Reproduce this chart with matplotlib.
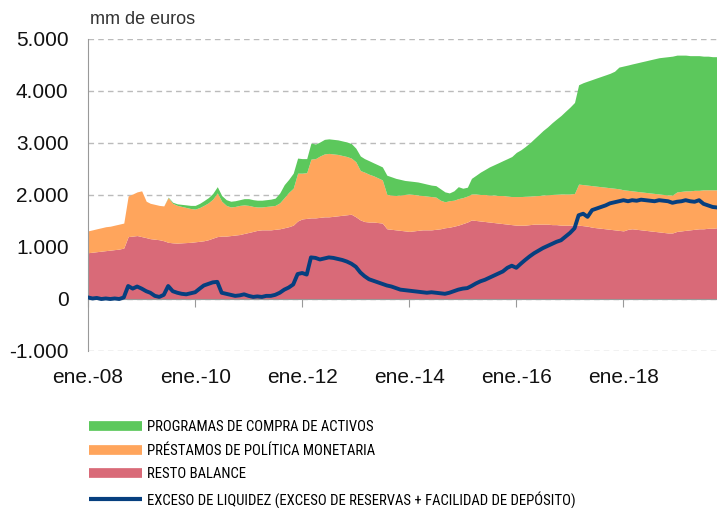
import numpy as np
import pandas as pd
import matplotlib
matplotlib.use('Agg')
import matplotlib.pyplot as plt
from matplotlib.lines import Line2D
from matplotlib import font_manager as fm

# Monthly readings, ene.-08 to oct.-19 (mm de euros)
# top of RESTO BALANCE
resto = [
    890, 900, 910, 920, 930, 940, 950, 960, 980, 1200, 1210, 1220,
    1200, 1180, 1160, 1150, 1140, 1120, 1090, 1080, 1075, 1080, 1085, 1090,
    1100, 1110, 1120, 1140, 1170, 1200, 1210, 1210, 1220, 1230, 1240, 1260,
    1280, 1300, 1320, 1330, 1330, 1330, 1340, 1350, 1370, 1390, 1420, 1500,
    1540, 1550, 1560, 1560, 1570, 1580, 1580, 1590, 1600, 1610, 1620, 1630,
    1580, 1520, 1490, 1480, 1480, 1470, 1460, 1350, 1340, 1330, 1320, 1310,
    1300, 1310, 1320, 1330, 1330, 1330, 1340, 1350, 1370, 1380, 1400, 1420,
    1450, 1480, 1520, 1510, 1500, 1490, 1480, 1470, 1460, 1450, 1440, 1430,
    1420, 1420, 1420, 1430, 1440, 1440, 1440, 1440, 1430, 1430, 1420, 1420,
    1420, 1420, 1420, 1410, 1400, 1380, 1370, 1360, 1350, 1340, 1330, 1320,
    1310, 1340, 1350, 1340, 1330, 1320, 1310, 1300, 1290, 1280, 1270, 1270,
    1300, 1310, 1320, 1330, 1340, 1350, 1350, 1360, 1360, 1370,
]
# top of PRESTAMOS DE POLITICA MONETARIA (stacked)
prestamos_top = [
    1310, 1330, 1350, 1370, 1390, 1400, 1420, 1440, 1460, 1980, 2020, 2060,
    2080, 1880, 1840, 1820, 1800, 1790, 1950, 1840, 1800, 1780, 1760, 1740,
    1730, 1760, 1800, 1850, 1920, 2040, 1880, 1800, 1770, 1780, 1800, 1810,
    1800, 1780, 1770, 1770, 1780, 1790, 1800, 1850, 1950, 2050, 2130, 2420,
    2420, 2430, 2690, 2700, 2750, 2790, 2800, 2790, 2780, 2760, 2740, 2710,
    2640, 2470, 2440, 2400, 2370, 2330, 2290, 2010, 2000, 1990, 2000, 2010,
    2020, 2010, 2000, 1990, 1980, 1970, 1960, 1900, 1870, 1890, 1900, 1930,
    1950, 1980, 2020, 2020, 2010, 2010, 2000, 2000, 1990, 1990, 1980, 1970,
    1970, 1970, 1975, 1980, 1985, 1990, 2000, 2005, 2010, 2015, 2020, 2020,
    2020, 2030, 2210, 2200, 2190, 2180, 2170, 2160, 2150, 2140, 2130, 2120,
    2100, 2090, 2080, 2070, 2060, 2050, 2040, 2030, 2020, 2010, 2000, 2000,
    2060, 2070, 2080, 2080, 2090, 2090, 2100, 2100, 2100, 2100,
]
# top of PROGRAMAS DE COMPRA DE ACTIVOS (stacked total)
programas_top = [
    1310, 1330, 1350, 1370, 1390, 1400, 1420, 1440, 1460, 1980, 2020, 2060,
    2080, 1880, 1840, 1820, 1800, 1790, 1960, 1860, 1830, 1820, 1810, 1800,
    1800, 1840, 1890, 1950, 2030, 2160, 1990, 1910, 1880, 1890, 1910, 1930,
    1930, 1910, 1900, 1900, 1910, 1920, 1940, 2040, 2200, 2300, 2420, 2710,
    2700, 2700, 3000, 2980, 3020, 3070, 3080, 3070, 3060, 3040, 3020, 2990,
    2900, 2750, 2700, 2660, 2620, 2580, 2540, 2380, 2350, 2320, 2300, 2280,
    2270, 2260, 2250, 2230, 2210, 2190, 2180, 2120, 2060, 2040, 2080, 2160,
    2130, 2150, 2320, 2380, 2440, 2490, 2540, 2580, 2620, 2660, 2700, 2740,
    2820, 2870, 2930, 3000, 3080, 3160, 3240, 3310, 3390, 3460, 3530, 3610,
    3690, 3780, 4120, 4160, 4190, 4220, 4250, 4280, 4310, 4340, 4380, 4460,
    4480, 4500, 4520, 4540, 4560, 4580, 4600, 4620, 4640, 4650, 4660, 4670,
    4690, 4690, 4690, 4680, 4680, 4680, 4670, 4670, 4660, 4660,
]
# EXCESO DE LIQUIDEZ
exceso = [
    30, 10, 20, 0, 10, 0, 10, 0, 30, 250, 200, 240,
    200, 150, 120, 60, 40, 80, 250, 150, 120, 100, 90, 110,
    130, 200, 260, 290, 320, 330, 120, 100, 80, 60, 70, 90,
    60, 40, 50, 40, 60, 60, 80, 120, 180, 220, 280, 480,
    500, 470, 800, 790, 760, 780, 800, 790, 770, 750, 720, 680,
    620, 510, 440, 380, 350, 320, 290, 260, 240, 210, 180, 170,
    160, 150, 140, 130, 120, 130, 120, 110, 100, 120, 150, 180,
    200, 210, 250, 300, 340, 370, 410, 450, 490, 530, 600, 640,
    600, 680, 750, 820, 880, 930, 980, 1020, 1060, 1100, 1130, 1200,
    1270, 1360, 1610, 1640, 1580, 1710, 1740, 1770, 1800, 1840, 1860, 1880,
    1900, 1880, 1900, 1890, 1910, 1900, 1890, 1880, 1900, 1890, 1880, 1850,
    1870, 1880, 1900, 1880, 1870, 1900, 1830, 1800, 1770, 1760,
]

y_ticks = [-1000, 0, 1000, 2000, 3000, 4000, 5000]
y_labels = ['-1.000', '0', '1.000', '2.000', '3.000', '4.000', '5.000']
x_tick_years = [2008, 2010, 2012, 2014, 2016, 2018]
x_labels = ['ene.-08', 'ene.-10', 'ene.-12', 'ene.-14', 'ene.-16', 'ene.-18']

names = ['PROGRAMAS DE COMPRA DE ACTIVOS', 'PRÉSTAMOS DE POLÍTICA MONETARIA',
         'RESTO BALANCE', 'EXCESO DE LIQUIDEZ (EXCESO DE RESERVAS + FACILIDAD DE DEPÓSITO)']

c_green = '#5cc85c'
c_orange = '#ffa55c'
c_red = '#d96a78'
c_blue = '#063f7f'

plt.rcParams['font.family'] = ['Liberation Sans', 'DejaVu Sans']


# legend uses a condensed face if one is installed
def pick_narrow():
    best = None
    for f in fm.fontManager.ttflist:
        n = f.name.lower()
        fn = f.fname.lower()
        st = str(f.stretch).lower()
        if not ('narrow' in n or 'condensed' in n or 'narrow' in fn or 'condensed' in fn or 'condensed' in st):
            continue
        if 'bold' in fn or 'italic' in fn or 'oblique' in fn or 'light' in fn or 'mono' in n:
            continue
        if 'semi' in fn or 'extra' in fn or 'ultra' in fn:
            continue
        if 'serif' in n and 'sans' not in n:
            continue
        score = 0
        if 'liberation' in n:
            score = 4
        elif 'roboto' in n:
            score = 3
        elif 'dejavu' in n:
            score = 2
        else:
            score = 1
        if best is None or score > best[0]:
            best = (score, f.fname)
    if best is None:
        return fm.FontProperties(family=['Liberation Sans', 'DejaVu Sans'])
    return fm.FontProperties(fname=best[1])


leg_font = pick_narrow()

dates = pd.date_range('2008-01-01', periods=len(resto), freq='MS')

fig = plt.figure(figsize=(7.17, 5.08), dpi=100)
ax = fig.add_axes([88 / 717, 1 - 351 / 508, 1 - 88 / 717, (351 - 39) / 508])

ax.fill_between(dates, 0, resto, color=c_red, lw=0)
ax.fill_between(dates, resto, prestamos_top, color=c_orange, lw=0)
ax.fill_between(dates, prestamos_top, programas_top, color=c_green, lw=0)
ax.plot(dates, exceso, color=c_blue, lw=2.8, zorder=4)

ax.set_ylim(-1000, 5000)
ax.set_xlim(dates[0], dates[-1])
ax.set_yticks(y_ticks)
ax.set_yticklabels(y_labels)
ax.tick_params(axis='y', length=0, pad=14, labelsize=15, labelcolor='#111111')
ax.grid(axis='y', color='#bbbbbb', ls=(0, (4, 3)), lw=1)
ax.set_axisbelow(True)

for s in ['top', 'right']:
    ax.spines[s].set_visible(False)
ax.spines['left'].set_color('#999999')
ax.spines['bottom'].set_position(('data', 0))
ax.spines['bottom'].set_color('#999999')
ax.spines['bottom'].set_zorder(3)

xt = [pd.Timestamp(f'{y}-01-01') for y in x_tick_years]
ax.set_xticks(xt)
ax.tick_params(axis='x', length=6, color='#999999', labelbottom=False)

sec = ax.secondary_xaxis('bottom')
sec.set_xticks(xt)
sec.set_xticklabels(x_labels)
sec.tick_params(length=0, pad=12, labelsize=15, labelcolor='#111111')
sec.spines['bottom'].set_visible(False)

fig.text(90 / 717, 1 - 20 / 508, 'mm de euros', fontsize=13, color='#333333', va='center', ha='left')

# size the legend text so the longest label spans ~433 px as in the source
renderer = fig.canvas.get_renderer()
probe = fig.text(0, 0, names[3], fontproperties=leg_font, fontsize=12.5)
w = probe.get_window_extent(renderer).width
probe.remove()
leg_size = min(13, 12.5 * 433 / w)
leg_font.set_size(leg_size)
leg_px = leg_size * 100 / 72

handles = [Line2D([], [], color=c_green, lw=7, solid_capstyle='butt'),
           Line2D([], [], color=c_orange, lw=7, solid_capstyle='butt'),
           Line2D([], [], color=c_red, lw=7, solid_capstyle='butt'),
           Line2D([], [], color=c_blue, lw=3, solid_capstyle='butt')]
fig.legend(handles, names, loc='upper left', bbox_to_anchor=(89 / 717, 1 - 420 / 508),
           frameon=False, borderpad=0, borderaxespad=0, handlelength=53 / leg_px,
           handletextpad=5 / leg_px, labelspacing=(24.5 - leg_px) / leg_px, prop=leg_font)

fig.savefig('out.png', dpi=100)
